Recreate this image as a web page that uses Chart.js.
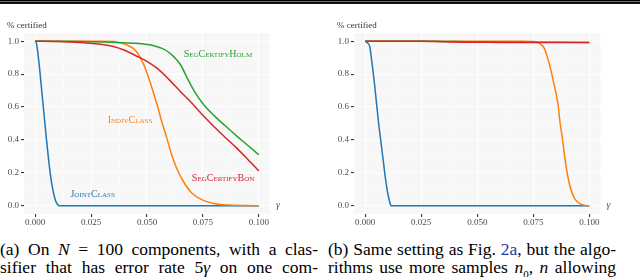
<!DOCTYPE html>
<html>
<head>
<meta charset="utf-8">
<script src="https://cdn.jsdelivr.net/npm/chart.js@4.4.1/dist/chart.umd.min.js"></script>
<style>
  body { margin: 0; width: 640px; height: 277px; overflow: hidden; background: #fff; position: relative; }
  .rule { position: absolute; left: 0; top: 0; width: 640px; height: 1px; background: #000;
          border-bottom: 1px solid #666; box-shadow: 0 2px 0 #111; }
  canvas { position: absolute; top: 0; }
  .cap { position: absolute; top: 240px; font-family: 'Liberation Serif', serif;
         font-size: 17.5px; line-height: 18px; color: #000; }
  .cap .ln { text-align: justify; text-align-last: justify; }
  .cap a { color: #1b3a9e; text-decoration: none; }
</style>
</head>
<body>
<div class="rule"></div>
<canvas id="chartA" width="320" height="232" style="left:0"></canvas>
<canvas id="chartB" width="320" height="232" style="left:320px"></canvas>
<div class="cap" style="left:0;width:318px">
  <div class="ln">(a) On <i>N</i> = 100 components, with a clas-</div>
  <div class="ln">sifier that has error rate 5<i>γ</i> on one com-</div>
</div>
<div class="cap" style="left:328px;width:288px">
  <div class="ln">(b) Same setting as Fig. <a>2a</a>, but the algo-</div>
  <div class="ln">rithms use more samples <i>n</i><sub style="font-size:11px">0</sub>, <i>n</i> allowing</div>
</div>
<script>
// tick labels
const xTickVals = [0, 0.025, 0.05, 0.075, 0.1];
const xTicks = ['0.000', '0.025', '0.050', '0.075', '0.100'];
const yTickVals = [0, 0.2, 0.4, 0.6, 0.8, 1.0];
const yTicks = ['0.0', '0.2', '0.4', '0.6', '0.8', '1.0'];

// (a) N = 100
const jointA_x = [0, 0.0005, 0.001, 0.002, 0.003, 0.004, 0.005, 0.006, 0.007, 0.008, 0.009, 0.010, 0.011, 0.1];
const jointA_y = [1.0, 0.99, 0.95, 0.83, 0.69, 0.55, 0.41, 0.28, 0.17, 0.09, 0.035, 0.008, 0.0, 0.0];

const indivA_x = [0, 0.03, 0.035, 0.038, 0.041, 0.044, 0.046, 0.049, 0.052, 0.0545, 0.0565, 0.0588, 0.061, 0.0632, 0.0662, 0.07, 0.0745, 0.0805, 0.087, 0.094, 0.1];
const indivA_y = [1.0, 1.0, 0.998, 0.99, 0.978, 0.955, 0.924, 0.843, 0.725, 0.615, 0.516, 0.414, 0.312, 0.23, 0.149, 0.078, 0.037, 0.012, 0.004, 0.001, 0.0];

const holmA_x = [0, 0.02, 0.03, 0.04, 0.045, 0.05, 0.053, 0.057, 0.06, 0.062, 0.065, 0.068, 0.071, 0.075, 0.08, 0.085, 0.09, 0.095, 0.1];
const holmA_y = [1.0, 0.998, 0.995, 0.99, 0.987, 0.98, 0.973, 0.955, 0.93, 0.905, 0.857, 0.776, 0.70, 0.62, 0.548, 0.486, 0.425, 0.368, 0.31];

const bonA_x = [0, 0.01, 0.02, 0.03, 0.035, 0.04, 0.045, 0.05, 0.055, 0.06, 0.065, 0.07, 0.075, 0.08, 0.085, 0.09, 0.095, 0.1];
const bonA_y = [1.0, 0.998, 0.992, 0.98, 0.968, 0.945, 0.912, 0.878, 0.83, 0.765, 0.693, 0.625, 0.55, 0.48, 0.415, 0.352, 0.283, 0.212];

// (b) more samples
const jointB_x = [0, 0.001, 0.002, 0.003, 0.004, 0.005, 0.006, 0.007, 0.008, 0.009, 0.010, 0.011, 0.0115, 0.1];
const jointB_y = [1.0, 0.99, 0.97, 0.87, 0.76, 0.63, 0.50, 0.39, 0.28, 0.17, 0.08, 0.02, 0.0, 0.0];

const indivB_x = [0, 0.07, 0.075, 0.078, 0.08, 0.082, 0.084, 0.086, 0.087, 0.088, 0.089, 0.09, 0.091, 0.093, 0.095, 0.0975, 0.1];
const indivB_y = [1.0, 1.0, 0.998, 0.985, 0.955, 0.87, 0.755, 0.62, 0.50, 0.41, 0.30, 0.21, 0.14, 0.055, 0.02, 0.004, 0.0];

const holmB_x = [0, 0.03, 0.04, 0.05, 0.1];
const holmB_y = [1.0, 1.0, 0.998, 0.995, 0.993];

const bonB_x = [0, 0.025, 0.035, 0.045, 0.06, 0.1];
const bonB_y = [1.0, 1.0, 0.997, 0.994, 0.993, 0.992];

const BLUE = '#1f77b4', ORANGE = '#ff7f0e', GREEN = '#2ca02c', RED = '#d62728';
const FONT = "'Liberation Serif', serif";

const pts = (xs, ys) => xs.map((x, i) => ({ x, y: ys[i] }));

function series(xs, ys, color, order) {
  return {
    data: pts(xs, ys),
    borderColor: color,
    borderWidth: 1.5,
    pointRadius: 0,
    showLine: true,
    fill: false,
    cubicInterpolationMode: 'monotone',
    order
  };
}

function withMinors(vals) {
  const out = [];
  vals.forEach((v, i) => {
    if (i > 0) out.push((vals[i - 1] + v) / 2);
    out.push(v);
  });
  return out;
}

const panelBg = {
  id: 'panelBg',
  beforeDraw(chart) {
    const { ctx, chartArea: a } = chart;
    ctx.save();
    ctx.fillStyle = '#f7f7f7';
    ctx.fillRect(a.left, a.top, a.right - a.left, a.bottom - a.top);
    ctx.restore();
  }
};

const annotations = {
  id: 'annotations',
  afterDatasetsDraw(chart, args, opts) {
    const { ctx, chartArea: a, scales } = chart;
    ctx.save();
    ctx.textBaseline = 'middle';
    ctx.fillStyle = '#333';
    ctx.font = '9px ' + FONT;
    ctx.textAlign = 'left';
    ctx.fillText('% certified', a.left - 17, 25.5);
    ctx.font = 'italic 10px ' + FONT;
    ctx.fillStyle = '#555';
    ctx.fillText('γ', a.right + 6, scales.y.getPixelForValue(0));
    (opts.labels || []).forEach(l => {
      ctx.font = 'small-caps 10px ' + FONT;
      ctx.fontVariantCaps = 'small-caps';
      ctx.fillStyle = l.color;
      ctx.textAlign = 'center';
      ctx.fillText(l.text, scales.x.getPixelForValue(l.x), scales.y.getPixelForValue(l.y));
    });
    ctx.restore();
  }
};

function makeChart(id, datasets, axisWidth, rightPad, labels) {
  const grid = {
    color: c => (c.index % 2 ? 'rgba(255,255,255,0.8)' : '#ffffff'),
    lineWidth: c => (c.index % 2 ? 0.6 : 1.1),
    tickColor: c => (c.index % 2 ? 'rgba(0,0,0,0)' : '#333'),
    tickLength: 3,
    drawTicks: true
  };
  const tickFont = { family: FONT, size: 9 };
  return new Chart(document.getElementById(id), {
    type: 'scatter',
    data: { datasets },
    options: {
      responsive: false,
      animation: false,
      events: [],
      devicePixelRatio: 1,
      layout: { padding: { top: 33, right: rightPad, bottom: 0, left: 0 } },
      plugins: {
        legend: { display: false },
        tooltip: { enabled: false },
        annotations: { labels }
      },
      scales: {
        x: {
          type: 'linear',
          min: -0.005,
          max: 0.105,
          border: { display: false },
          grid,
          afterBuildTicks: s => { s.ticks = withMinors(xTickVals).map(v => ({ value: v })); },
          afterFit: s => { s.height = 18; },
          ticks: {
            autoSkip: false,
            maxRotation: 0,
            padding: 0,
            color: '#4d4d4d',
            font: tickFont,
            callback: (v, i) => (i % 2 ? '' : xTicks[i / 2])
          }
        },
        y: {
          type: 'linear',
          min: -0.05,
          max: 1.05,
          border: { display: false },
          grid,
          afterBuildTicks: s => { s.ticks = withMinors(yTickVals).map(v => ({ value: v })); },
          afterFit: s => { s.width = axisWidth; },
          ticks: {
            autoSkip: false,
            padding: 2,
            color: '#4d4d4d',
            font: tickFont,
            callback: (v, i) => (i % 2 ? '' : yTicks[i / 2])
          }
        }
      }
    },
    plugins: [panelBg, annotations]
  });
}

makeChart('chartA', [
  series(jointA_x, jointA_y, BLUE, 4),
  series(indivA_x, indivA_y, ORANGE, 3),
  series(holmA_x, holmA_y, GREEN, 2),
  series(bonA_x, bonA_y, RED, 1)
], 24, 50, [
  { text: 'SegCertifyHolm', x: 0.0817, y: 0.918, color: GREEN },
  { text: 'IndivClass', x: 0.0424, y: 0.52, color: ORANGE },
  { text: 'SegCertifyBon', x: 0.084, y: 0.168, color: RED },
  { text: 'JointClass', x: 0.0257, y: 0.072, color: BLUE }
]);

makeChart('chartB', [
  series(jointB_x, jointB_y, BLUE, 4),
  series(indivB_x, indivB_y, ORANGE, 3),
  series(holmB_x, holmB_y, GREEN, 2),
  series(bonB_x, bonB_y, RED, 1)
], 34, 39.5, []);
</script>
</body>
</html>
